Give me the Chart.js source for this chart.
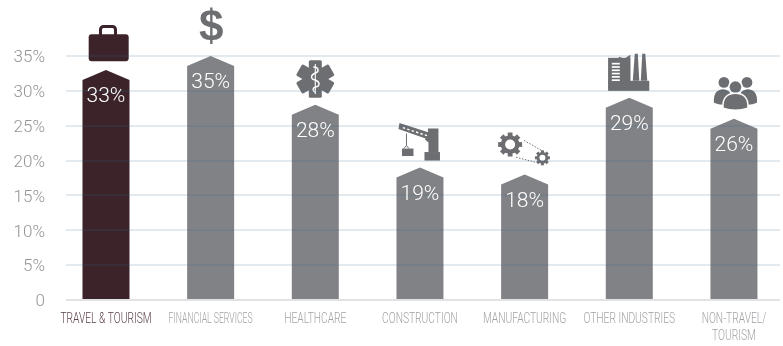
<!DOCTYPE html>
<html>
<head>
<meta charset="utf-8">
<title>Share by industry</title>
<script src="https://cdn.jsdelivr.net/npm/chart.js@4/dist/chart.umd.js"></script>
<style>
    html, body { margin: 0; padding: 0; background: #fff; }
    canvas { display: block; }
</style>
</head>
<body>
<canvas id="industryChart" width="783" height="346"></canvas>
<script>
const categories = ['TRAVEL & TOURISM', 'FINANCIAL SERVICES', 'HEALTHCARE', 'CONSTRUCTION', 'MANUFACTURING', 'OTHER INDUSTRIES', ['NON-TRAVEL/', 'TOURISM']];
const shares = [33, 35, 28, 19, 18, 29, 26];
const yTicks = [0, 5, 10, 15, 20, 25, 30, 35];

const PLUM = '#3b2329';
const BAR_GREY = '#808285';
const ICON_GREY = '#6d6e71';

// Bars get a pointed roof: the tip sits on the value, the shoulders 10px lower
Chart.BarElement.prototype.draw = function (ctx) {
    const { x, y, base, width } = this.getProps(['x', 'y', 'base', 'width']);
    ctx.save();
    ctx.fillStyle = this.options.backgroundColor;
    ctx.beginPath();
    ctx.moveTo(x - width / 2, base);
    ctx.lineTo(x - width / 2, y + 10);
    ctx.lineTo(x, y);
    ctx.lineTo(x + width / 2, y + 10);
    ctx.lineTo(x + width / 2, base);
    ctx.closePath();
    ctx.fill();
    ctx.restore();
};

function roundRect(ctx, x, y, w, h, r) {
    ctx.beginPath();
    ctx.roundRect(x, y, w, h, r);
    ctx.fill();
}

function poly(ctx, pts) {
    ctx.beginPath();
    pts.forEach((p, i) => i ? ctx.lineTo(p[0], p[1]) : ctx.moveTo(p[0], p[1]));
    ctx.closePath();
    ctx.fill();
}

function gear(ctx, cx, cy, outer, hole, teeth) {
    ctx.save();
    ctx.translate(cx, cy);
    ctx.beginPath();
    ctx.arc(0, 0, outer * 0.78, 0, Math.PI * 2);
    ctx.fill();
    for (let i = 0; i < teeth; i++) {
        ctx.save();
        ctx.rotate(i * Math.PI * 2 / teeth);
        ctx.fillRect(-outer * 0.2, -outer, outer * 0.4, outer * 0.4);
        ctx.restore();
    }
    ctx.fillStyle = '#fff';
    ctx.beginPath();
    ctx.arc(0, 0, hole, 0, Math.PI * 2);
    ctx.fill();
    ctx.restore();
}

// Icons are drawn with the origin on the bar's tip
const icons = [
    function briefcase(ctx) {
        ctx.lineWidth = 3;
        ctx.beginPath();
        ctx.roundRect(-5.5, -43.5, 15, 12, 3);
        ctx.stroke();
        roundRect(ctx, -17.3, -35.7, 40, 27, 3);
    },
    function dollar(ctx) {
        ctx.font = 'bold 44px "Liberation Sans"';
        ctx.textAlign = 'center';
        ctx.textBaseline = 'alphabetic';
        ctx.fillText('$', 0.5, -15);
    },
    function medical(ctx) {
        ctx.save();
        ctx.translate(0, -25.8);
        for (let i = 0; i < 3; i++) {
            ctx.save();
            ctx.rotate(i * Math.PI / 3);
            roundRect(ctx, -6.5, -18.7, 13, 37.4, 1.5);
            ctx.restore();
        }
        // staff and snake
        ctx.strokeStyle = '#fff';
        ctx.lineWidth = 1.1;
        ctx.beginPath();
        ctx.moveTo(0, -15);
        ctx.lineTo(0, 15);
        ctx.stroke();
        ctx.lineWidth = 1.4;
        ctx.beginPath();
        ctx.moveTo(-2, -12);
        ctx.bezierCurveTo(4, -12, 4, -7, 0, -6);
        ctx.bezierCurveTo(-5, -4, -5, 0, 0, 1);
        ctx.bezierCurveTo(5, 3, 5, 7, 0, 8);
        ctx.bezierCurveTo(-3, 9, -3, 12, 0, 13);
        ctx.stroke();
        ctx.restore();
    },
    function crane(ctx) {
        // boom
        poly(ctx, [[-20.5, -44.5], [9, -35], [7, -28.5], [-21.5, -38.5]]);
        ctx.fillStyle = '#fff';
        for (let i = 0; i < 6; i++) {
            ctx.save();
            ctx.translate(-16 + i * 4.4, -39.5 + i * 1.45);
            ctx.rotate(0.32);
            ctx.fillRect(-1.2, -0.7, 2.4, 1.4);
            ctx.restore();
        }
        ctx.fillStyle = ICON_GREY;
        // tower and base
        poly(ctx, [[8, -39], [18.5, -39], [18.5, -15], [8.5, -15], [8.5, -25], [5, -28], [8, -33]]);
        ctx.fillRect(4.5, -15.5, 15.5, 8.5);
        // hook and load
        ctx.strokeStyle = ICON_GREY;
        ctx.lineWidth = 1;
        ctx.beginPath();
        ctx.moveTo(-13.5, -34);
        ctx.lineTo(-13.5, -22);
        ctx.moveTo(-13.5, -22);
        ctx.lineTo(-16, -19);
        ctx.moveTo(-13.5, -22);
        ctx.lineTo(-11, -19);
        ctx.stroke();
        ctx.fillRect(-18, -19, 11.5, 7.5);
    },
    function gears(ctx) {
        gear(ctx, -14.5, -30, 12, 5, 8);
        gear(ctx, 17.8, -16.7, 7.5, 3, 8);
        ctx.strokeStyle = ICON_GREY;
        ctx.lineWidth = 1;
        ctx.setLineDash([1.5, 1.5]);
        ctx.beginPath();
        ctx.moveTo(-0.5, -34);
        ctx.lineTo(17, -24);
        ctx.moveTo(-8.5, -17.3);
        ctx.lineTo(10.5, -12.3);
        ctx.stroke();
        ctx.setLineDash([]);
    },
    function factory(ctx) {
        // building with a stepped roof, chimneys, and base slab
        poly(ctx, [[-21, -40], [-12, -38], [-10, -41], [-5, -39], [1, -43], [1, -16], [-21, -7]]);
        ctx.fillRect(-21, -17, 41, 10);
        poly(ctx, [[5.5, -44], [8.5, -44], [10, -17], [3.5, -17]]);
        poly(ctx, [[13, -44], [16, -44], [18, -17], [11.5, -17]]);
        ctx.fillRect(-21, -40, 22, 30);
        ctx.fillStyle = '#fff';
        for (let i = 0; i < 6; i++) {
            ctx.fillRect(-17.5, -35 + i * 3.3, 8, 1.7);
        }
    },
    function people(ctx) {
        const body = (cx, top, bottom, half) => {
            ctx.beginPath();
            ctx.moveTo(cx - half, bottom);
            ctx.bezierCurveTo(cx - half - 1, top + 3, cx - half * 0.5, top, cx, top);
            ctx.bezierCurveTo(cx + half * 0.5, top, cx + half + 1, top + 3, cx + half, bottom);
            ctx.quadraticCurveTo(cx, bottom + 4, cx - half, bottom);
            ctx.closePath();
        };
        [-10, 13].forEach(dx => {
            ctx.beginPath();
            ctx.arc(dx, -36.3, 5.4, 0, Math.PI * 2);
            ctx.fill();
        });
        body(-11, -29.5, -16, 9);
        ctx.fill();
        body(14, -29.5, -16, 9);
        ctx.fill();
        ctx.strokeStyle = '#fff';
        ctx.lineWidth = 1.5;
        ctx.beginPath();
        ctx.arc(1.5, -31.7, 6.6, 0, Math.PI * 2);
        ctx.fill();
        ctx.stroke();
        body(1.5, -25.5, -10.5, 12.5);
        ctx.fill();
        ctx.stroke();
    }
];

const iconPlugin = {
    id: 'barIcons',
    afterDatasetsDraw(chart) {
        const ctx = chart.ctx;
        chart.getDatasetMeta(0).data.forEach((bar, i) => {
            const colour = i === 0 ? PLUM : ICON_GREY;
            ctx.save();
            ctx.translate(bar.x, bar.y);
            ctx.fillStyle = colour;
            ctx.strokeStyle = colour;
            icons[i](ctx);
            ctx.restore();
        });
    },
    afterDraw(chart) {
        const ctx = chart.ctx;
        ctx.save();
        ctx.textAlign = 'center';
        ctx.textBaseline = 'middle';

        // value labels sit on top of the grid lines
        ctx.font = '300 21px Roboto';
        ctx.fillStyle = '#fff';
        chart.getDatasetMeta(0).data.forEach((bar, i) => {
            ctx.fillText(shares[i] + '%', bar.x, bar.y + 27);
        });

        // category labels, squeezed since no condensed face is installed
        ctx.font = '300 15.5px Roboto';
        const xScale = chart.scales.x;
        categories.forEach((label, i) => {
            const squeeze = i === 1 ? 0.56 : 0.66;
            ctx.fillStyle = i === 0 ? '#5a4047' : '#a0a2a5';
            [].concat(label).forEach((line, n) => {
                ctx.save();
                ctx.translate(xScale.getPixelForValue(i), chart.chartArea.bottom + 19.5 + n * 17);
                ctx.scale(squeeze, 1);
                ctx.fillText(line, 0, 0);
                ctx.restore();
            });
        });
        ctx.restore();
    }
};

new Chart(document.getElementById('industryChart'), {
    type: 'bar',
    data: {
        datasets: [{
            data: shares.map((v, i) => ({ x: i, y: v })),
            backgroundColor: shares.map((v, i) => i === 0 ? PLUM : BAR_GREY),
            barThickness: 47
        }]
    },
    options: {
        responsive: false,
        animation: false,
        layout: { padding: { top: 56, right: 3, left: 0, bottom: 0 } },
        plugins: {
            legend: { display: false },
            tooltip: { enabled: false }
        },
        scales: {
            x: {
                type: 'linear',
                offset: false,
                min: -0.382,
                max: 6.44,
                grid: { display: false },
                border: { display: false },
                afterFit: scale => { scale.height = 46; },
                ticks: { display: false }
            },
            y: {
                min: 0,
                max: 35,
                afterBuildTicks: scale => { scale.ticks = yTicks.map(v => ({ value: v })); },
                afterFit: scale => { scale.width = 66; },
                border: { display: false },
                grid: {
                    z: 1,
                    lineWidth: 2,
                    drawTicks: false,
                    color: c => c.tick.value === 0 ? 'rgba(70,75,85,0.16)' : 'rgba(50,105,140,0.14)'
                },
                ticks: {
                    padding: 21,
                    labelOffset: 2,
                    callback: value => value === 0 ? '0' : value + '%',
                    color: '#939598',
                    font: { family: 'Roboto', size: 17, weight: '300' }
                }
            }
        }
    },
    plugins: [iconPlugin]
});
</script>
</body>
</html>
